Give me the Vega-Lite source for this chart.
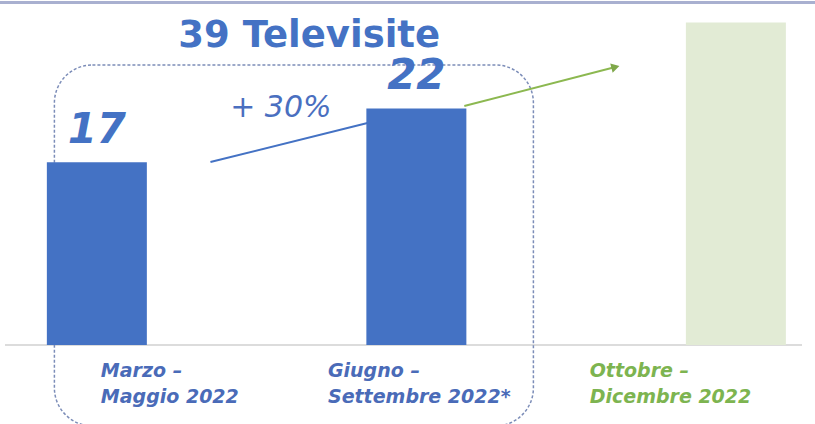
{
  "$schema": "https://vega.github.io/schema/vega-lite/v6.json",
  "width": 815,
  "height": 424,
  "padding": 0,
  "autosize": {"type": "none"},
  "background": "white",
  "config": {"view": {"stroke": null}},
  "datasets": {
    "bars": [
      {"period": "Marzo – Maggio 2022", "pos": 1, "value": 17, "label": "17", "kind": "actual"},
      {"period": "Giugno – Settembre 2022*", "pos": 2, "value": 22, "label": "22", "kind": "actual"},
      {"period": "Ottobre – Dicembre 2022", "pos": 3, "value": 30, "label": "", "kind": "forecast"}
    ],
    "cats": [
      {"text": "Marzo –\nMaggio 2022", "u": 1.0124, "v": -2.977, "kind": "actual"},
      {"text": "Giugno –\nSettembre 2022*", "u": 1.7233, "v": -2.977, "kind": "actual"},
      {"text": "Ottobre –\nDicembre 2022", "u": 2.5425, "v": -2.977, "kind": "forecast"}
    ],
    "blueline": [{"u": 1.3555, "v": 17.02}, {"u": 1.847, "v": 20.65}],
    "greenline": [{"u": 2.15, "v": 22.23}, {"u": 2.623, "v": 25.86}],
    "box": [{"u1": 0.8671, "u2": 2.3663, "v1": 26.05, "v2": -7.53}]
  },
  "layer": [
    {
      "data": {"values": [{"v": 31.86}]},
      "mark": {"type": "rule", "stroke": "#A9B0D0", "strokeWidth": 3},
      "encoding": {"y": {"field": "v", "type": "quantitative", "scale": {"domain": [-7.349, 32.093], "nice": false, "zero": false}, "axis": null}}
    },
    {
      "data": {"values": [{"u1": 0.7125, "u2": 3.207, "v": 0}]},
      "mark": {"type": "rule", "stroke": "#DCDCDC", "strokeWidth": 2},
      "encoding": {
        "x": {"field": "u1", "type": "quantitative", "scale": {"domain": [0.7125, 3.232], "nice": false, "zero": false}, "axis": null},
        "x2": {"field": "u2"},
        "y": {"field": "v", "type": "quantitative", "axis": null}
      }
    },
    {
      "data": {"name": "box"},
      "mark": {"type": "rect", "fill": "transparent", "stroke": "#7C8DB8", "strokeWidth": 1.5, "strokeDash": [3, 2], "cornerRadius": 38},
      "encoding": {
        "x": {"field": "u1", "type": "quantitative", "axis": null},
        "x2": {"field": "u2"},
        "y": {"field": "v1", "type": "quantitative", "axis": null},
        "y2": {"field": "v2"}
      }
    },
    {
      "data": {"name": "blueline"},
      "mark": {"type": "line", "stroke": "#4472C4", "strokeWidth": 2},
      "encoding": {
        "x": {"field": "u", "type": "quantitative", "axis": null},
        "y": {"field": "v", "type": "quantitative", "axis": null}
      }
    },
    {
      "data": {"name": "bars"},
      "mark": {"type": "bar", "width": 100},
      "encoding": {
        "x": {"field": "pos", "type": "quantitative", "axis": null},
        "y": {"field": "value", "type": "quantitative", "axis": null},
        "y2": {"datum": 0},
        "color": {"field": "kind", "type": "nominal", "scale": {"domain": ["actual", "forecast"], "range": ["#4472C4", "#E2EBD5"]}, "legend": null}
      }
    },
    {
      "data": {"name": "greenline"},
      "mark": {"type": "line", "stroke": "#8CB850", "strokeWidth": 2},
      "encoding": {
        "x": {"field": "u", "type": "quantitative", "axis": null},
        "y": {"field": "v", "type": "quantitative", "axis": null}
      }
    },
    {
      "data": {"name": "greenline"},
      "transform": [{"filter": "datum.u > 2.5"}],
      "mark": {"type": "point", "shape": "triangle-right", "angle": 345.4, "size": 90, "filled": true, "color": "#7FA84A", "opacity": 1},
      "encoding": {
        "x": {"field": "u", "type": "quantitative", "axis": null},
        "y": {"field": "v", "type": "quantitative", "axis": null}
      }
    },
    {
      "data": {"name": "bars"},
      "mark": {"type": "text", "font": "DejaVu Sans", "fontSize": 42, "fontWeight": "bold", "fontStyle": "italic", "baseline": "alphabetic", "align": "center", "dy": -19, "color": "#4472C4"},
      "encoding": {
        "x": {"field": "pos", "type": "quantitative", "axis": null},
        "y": {"field": "value", "type": "quantitative", "axis": null},
        "text": {"field": "label"}
      }
    },
    {
      "data": {"name": "cats"},
      "mark": {"type": "text", "font": "DejaVu Sans", "fontSize": 19, "fontWeight": "bold", "fontStyle": "italic", "baseline": "alphabetic", "align": "left", "lineBreak": "\n", "lineHeight": 25.5},
      "encoding": {
        "x": {"field": "u", "type": "quantitative", "axis": null},
        "y": {"field": "v", "type": "quantitative", "axis": null},
        "text": {"field": "text"},
        "color": {"field": "kind", "type": "nominal", "scale": {"domain": ["actual", "forecast"], "range": ["#4A6BB8", "#7DB450"]}, "legend": null}
      }
    },
    {
      "data": {"values": [{"text": "39 Televisite", "u": 1.6646, "v": 27.72}]},
      "mark": {"type": "text", "font": "DejaVu Sans", "fontSize": 37, "fontWeight": "bold", "baseline": "alphabetic", "align": "center", "color": "#4472C4"},
      "encoding": {
        "x": {"field": "u", "type": "quantitative", "axis": null},
        "y": {"field": "v", "type": "quantitative", "axis": null},
        "text": {"field": "text"}
      }
    },
    {
      "data": {"values": [{"text": "+ 30%", "u": 1.4173, "v": 21.21}]},
      "mark": {"type": "text", "font": "DejaVu Sans", "fontSize": 30, "fontStyle": "italic", "baseline": "alphabetic", "align": "left", "color": "#4A6FC0"},
      "encoding": {
        "x": {"field": "u", "type": "quantitative", "axis": null},
        "y": {"field": "v", "type": "quantitative", "axis": null},
        "text": {"field": "text"}
      }
    }
  ],
  "resolve": {"scale": {"color": "independent"}}
}
